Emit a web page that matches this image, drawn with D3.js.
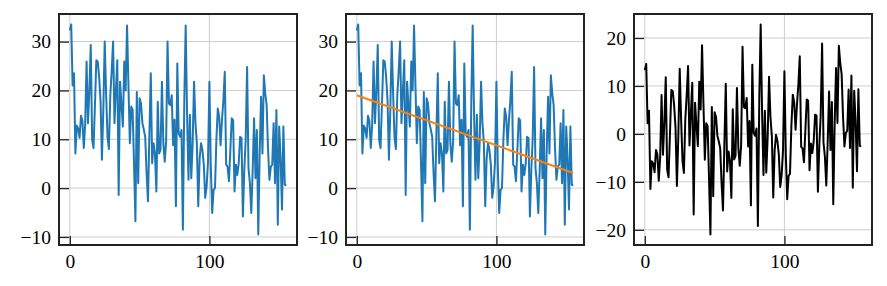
<!DOCTYPE html>
<html>
<head>
<meta charset="utf-8">
<script src="https://cdn.jsdelivr.net/npm/d3@7"></script>
<style>
    body { margin: 0; background: #fff; }
    svg { display: block; }
    .axis text { font-family: "Liberation Serif", serif; font-size: 19.5px; fill: #000; }
    .axis line { stroke: #222; stroke-width: 1.3; }
</style>
</head>
<body>
<script>

// series, index 0..155
var values = [
    32.3, 33.5, 21.0, 23.5, 7.1, 12.8, 12.2, 10.3, 14.8, 13.8,
    8.2, 13.0, 25.9, 13.3, 20.0, 29.3, 9.9, 8.2, 17.0, 26.2,
    25.9, 22.8, 18.0, 5.8, 16.0, 30.0, 19.4, 10.5, 8.0, 19.0,
    24.0, 30.0, 13.3, 20.0, 26.2, -1.4, 21.8, 17.0, 12.6, 25.9,
    20.0, 33.3, 21.0, 9.2, 16.7, 16.0, 5.0, -6.8, 19.7, 1.0,
    18.4, 17.3, 13.3, 12.0, 10.5, 3.0, -2.7, 11.0, 23.5, 5.1,
    9.2, 7.1, -0.7, 17.7, 7.1, 7.8, 21.8, 9.2, 5.4, 9.5,
    30.0, 17.3, 17.0, 19.0, 8.8, 14.0, -3.7, 25.5, 11.2, 10.5,
    11.9, -8.5, 17.7, 33.3, 15.0, 1.7, 15.0, 2.0, 9.2, 21.8,
    13.3, 9.2, -3.7, 6.0, 9.2, 7.8, 4.8, -2.0, 0.3, 5.4,
    21.8, 4.4, -5.1, -0.3, 0.0, 9.9, 16.3, 14.6, 8.8, 13.9,
    18.0, 23.8, 4.8, 4.4, 1.4, 7.8, 14.3, 13.9, -0.7, 4.8,
    2.7, 5.1, 10.5, 10.2, -5.8, 3.7, 10.0, 24.8, 4.1, 1.0,
    -5.1, 3.7, 14.3, 2.0, 11.9, -9.5, 7.1, 18.7, 7.1, 23.1,
    19.4, 17.0, 8.0, 1.7, 4.4, 4.8, 13.3, 1.0, 16.0, -7.5,
    12.6, 6.1, -4.4, 12.6, 0.7, 0.5
];

// trend line end points
var trendX = [0, 155];
var trendY = [19.0, 3.1];

var xTicks = [0, 100];
var yTicksData = [-10, 0, 10, 20, 30];
var yTicksResid = [-20, -10, 0, 10, 20];

var width = 887, height = 286;
var plotTop = 14, pw = 238, ph = 231;
var panelLeft = [59, 346, 634];

var pad = function (ext) {
    var r = ext[1] - ext[0];
    return [ext[0] - 0.05 * r, ext[1] + 0.05 * r];
};

var trend = d3.scaleLinear().domain(trendX).range(trendY);

var points = values.map(function (v, i) { return [i, v]; });
var trendPoints = trendX.map(function (t) { return [t, trend(t)]; });
// third panel: data minus the trend line
var resid = values.map(function (v, i) { return [i, v - trend(i)]; });

var xDomain = pad([0, values.length - 1]);

var svg = d3.select("body").append("svg")
    .attr("width", width)
    .attr("height", height);

var drawPanel = function (left, yDomain, yTicks, lines) {

    var g = svg.append("g")
        .attr("transform", "translate(" + left + "," + plotTop + ")");

    var x = d3.scaleLinear().domain(xDomain).range([0, pw]);
    var y = d3.scaleLinear().domain(yDomain).range([ph, 0]);

    g.append("g").selectAll("line").data(xTicks).join("line")
        .attr("x1", function (d) { return x(d); })
        .attr("x2", function (d) { return x(d); })
        .attr("y1", 0)
        .attr("y2", ph)
        .style("stroke", "#c8c8c8")
        .style("stroke-width", 0.9);

    g.append("g").selectAll("line").data(yTicks).join("line")
        .attr("x1", 0)
        .attr("x2", pw)
        .attr("y1", function (d) { return y(d); })
        .attr("y2", function (d) { return y(d); })
        .style("stroke", "#c8c8c8")
        .style("stroke-width", 0.9);

    var line = d3.line()
        .x(function (d) { return x(d[0]); })
        .y(function (d) { return y(d[1]); });

    lines.forEach(function (l) {
        g.append("path")
            .attr("d", line(l.data))
            .style("stroke", l.color)
            .style("stroke-width", 2)
            .style("stroke-linejoin", "round")
            .style("fill", "none");
    });

    var xAxis = g.append("g")
        .attr("class", "axis")
        .attr("transform", "translate(0," + ph + ")")
        .call(d3.axisBottom(x).tickValues(xTicks).tickSizeInner(-9).tickSizeOuter(0).tickPadding(9.5));
    xAxis.select(".domain").remove();

    var yAxis = g.append("g")
        .attr("class", "axis")
        .call(d3.axisLeft(y).tickValues(yTicks).tickSizeInner(-10).tickSizeOuter(0).tickPadding(8));
    yAxis.select(".domain").remove();

    g.append("rect")
        .attr("width", pw)
        .attr("height", ph)
        .style("fill", "none")
        .style("stroke", "#222")
        .style("stroke-width", 2);
};

var dataDomain = pad(d3.extent(values));
var residDomain = pad(d3.extent(resid, function (d) { return d[1]; }));

drawPanel(panelLeft[0], dataDomain, yTicksData, [
    { data: points, color: "#1f77b4" }
]);

drawPanel(panelLeft[1], dataDomain, yTicksData, [
    { data: points, color: "#1f77b4" },
    { data: trendPoints, color: "#ff7f0e" }
]);

drawPanel(panelLeft[2], residDomain, yTicksResid, [
    { data: resid, color: "#000" }
]);

</script>
</body>
</html>
